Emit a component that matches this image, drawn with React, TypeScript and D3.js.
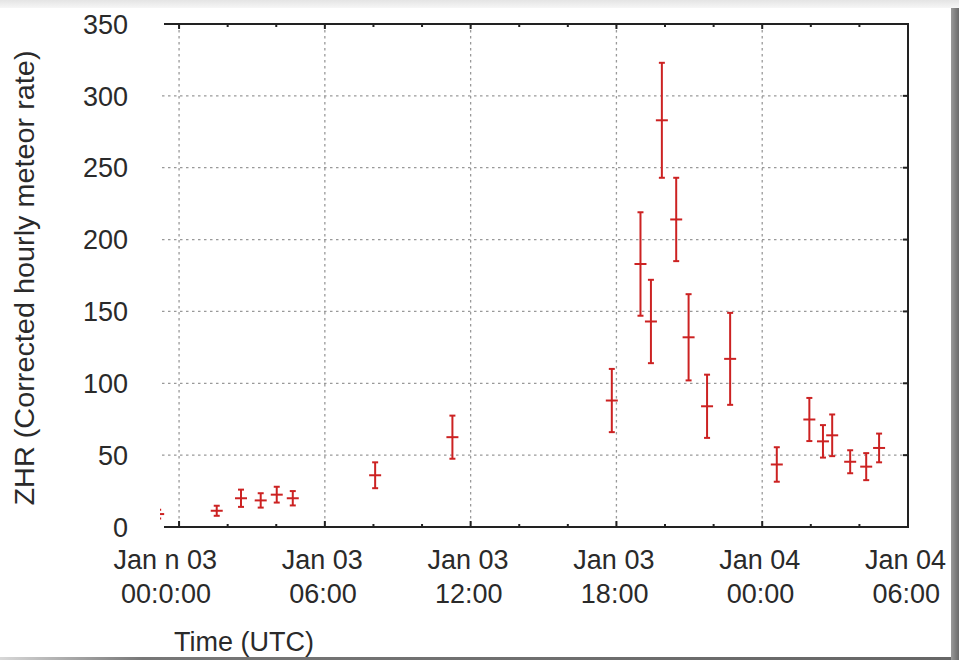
import * as d3 from "d3";

// ZHR observations, hours after Jan 03 00:00 UTC
const hours = [-0.86, 1.55, 2.55, 3.36, 4.02, 4.68, 8.07, 11.25, 17.81, 18.99, 19.42, 19.87, 20.46, 20.97, 21.73, 22.68, 24.6, 25.94, 26.5, 26.88, 27.62, 28.28, 28.81];
const zhr = [9, 11.3, 20, 18.5, 22.5, 20, 36, 62.5, 88, 183, 143, 283, 214, 132, 84, 117, 43.5, 74.8, 59.6, 63.8, 45.4, 42, 55];
const zhrErr = [3, 3.5, 6, 5, 5.5, 5, 9, 15, 22, 36, 29, 40, 29, 30, 22, 32, 12, 15, 11.3, 14.5, 8, 9.4, 10];

const yTicks = [0, 50, 100, 150, 200, 250, 300, 350];
const xLabelTop = ["Jan n 03", "Jan 03", "Jan 03", "Jan 03", "Jan 04", "Jan 04"];
const xLabelBottom = ["00:0:00", "06:00", "12:00", "18:00", "00:00", "06:00"];

const t0 = Date.UTC(2012, 0, 3);
const toDate = (h: number) => new Date(t0 + h * 3600 * 1000);

const W = 959;
const H = 660;
const left = 164;
const right = 908;
const top = 24;
const bottom = 527;
const font = "'Liberation Sans', Arial, sans-serif";
const red = "#cc2222";
const ink = "#2a2a2a";

export default function App() {
  const x = d3.scaleUtc().domain([toDate(-0.62), toDate(30)]).range([left, right]);
  const y = d3.scaleLinear().domain([0, 350]).range([bottom, top]);

  const major = d3.utcHour.every(6)!.range(toDate(0), toDate(30.01));
  const minor = d3.utcHour.every(2)!.range(toDate(0), toDate(30.01)).filter((d) => d.getUTCHours() % 6 !== 0);

  return (
    <div style={{ position: "fixed", left: 0, top: 0, width: W, height: H }}>
      <svg width={W} height={H} viewBox={`0 0 ${W} ${H}`} style={{ display: "block" }}>
        <defs>
          <linearGradient id="topfade" x1="0" y1="0" x2="0" y2="1">
            <stop offset="0" stopColor="#e4e4e4" />
            <stop offset="1" stopColor="#f6f6f6" />
          </linearGradient>
          <linearGradient id="rightshade" x1="0" y1="0" x2="1" y2="0">
            <stop offset="0" stopColor="#9a9a9a" />
            <stop offset="1" stopColor="#6a6a6a" />
          </linearGradient>
          <linearGradient id="bottomshade" x1="0" y1="0" x2="1" y2="0">
            <stop offset="0" stopColor="#d8d8d8" />
            <stop offset="0.15" stopColor="#777" />
            <stop offset="1" stopColor="#666" />
          </linearGradient>
          <clipPath id="plotclip">
            <rect x={left - 4} y={top} width={right - left + 4} height={bottom - top} />
          </clipPath>
        </defs>

        {/* card + shadow */}
        <rect x={0} y={0} width={W} height={H} fill="#fff" />
        <rect x={0} y={0} width={W} height={8} fill="url(#topfade)" />
        <rect x={951} y={8} width={8} height={H - 8} fill="url(#rightshade)" />
        <rect x={0} y={657} width={951} height={3} fill="url(#bottomshade)" />

        {/* grid */}
        {yTicks.slice(1, -1).map((v) => (
          <line key={`gy${v}`} x1={left - 2} x2={right} y1={y(v)} y2={y(v)} stroke="#999" strokeWidth={1.3} strokeDasharray="2.5,3.5" />
        ))}
        {major.slice(0, -1).map((d, i) => (
          <line key={`gx${i}`} x1={x(d)} x2={x(d)} y1={top} y2={bottom} stroke="#999" strokeWidth={1.3} strokeDasharray="2.5,3.5" />
        ))}

        {/* frame */}
        <path d={`M${left},${top}H${right}V${bottom}H${left}`} fill="none" stroke="#222" strokeWidth={2} />
        {major.map((d, i) => (
          <g key={`mt${i}`} stroke="#222" strokeWidth={2}>
            <line x1={x(d)} x2={x(d)} y1={top} y2={top + 5} />
            <line x1={x(d)} x2={x(d)} y1={bottom} y2={bottom - 6} />
          </g>
        ))}
        {minor.map((d, i) => (
          <g key={`nt${i}`} stroke="#222" strokeWidth={2}>
            <line x1={x(d)} x2={x(d)} y1={top} y2={top + 3} />
            <line x1={x(d)} x2={x(d)} y1={bottom} y2={bottom - 3} />
          </g>
        ))}
        {yTicks.map((v) => (
          <line key={`rt${v}`} x1={right} x2={right - 5} y1={y(v)} y2={y(v)} stroke="#222" strokeWidth={2} />
        ))}

        {/* y tick labels */}
        {yTicks.map((v) => (
          <text key={`yl${v}`} x={128} y={y(v)} dy="0.36em" textAnchor="end" fontFamily={font} fontSize={27} fill={ink}>
            {v}
          </text>
        ))}

        {/* x tick labels */}
        {major.map((d, i) => (
          <g key={`xl${i}`} fontFamily={font} fontSize={27} fill={ink} textAnchor="end">
            <text x={x(d) + 38} y={569}>{xLabelTop[i]}</text>
            <text x={x(d) + 32} y={603}>{xLabelBottom[i]}</text>
          </g>
        ))}

        {/* axis titles */}
        <text transform="translate(34,278) rotate(-90)" textAnchor="middle" fontFamily={font} fontSize={28} textLength={455} lengthAdjust="spacingAndGlyphs" fill={ink}>
          ZHR (Corrected hourly meteor rate)
        </text>
        <text x={174} y={651} fontFamily={font} fontSize={27} fill={ink}>
          Time (UTC)
        </text>

        {/* error bars */}
        <g clipPath="url(#plotclip)" stroke={red} strokeWidth={2}>
          {hours.map((h, i) => {
            const cx = x(toDate(h));
            const lo = y(zhr[i] - zhrErr[i]);
            const hi = y(zhr[i] + zhrErr[i]);
            const cy = y(zhr[i]);
            return (
              <g key={`eb${i}`}>
                <line x1={cx} x2={cx} y1={lo} y2={hi} />
                <line x1={cx - 3} x2={cx + 3} y1={lo} y2={lo} />
                <line x1={cx - 3} x2={cx + 3} y1={hi} y2={hi} />
                <line x1={cx - 6} x2={cx + 6} y1={cy} y2={cy} />
              </g>
            );
          })}
        </g>
      </svg>
    </div>
  );
}
